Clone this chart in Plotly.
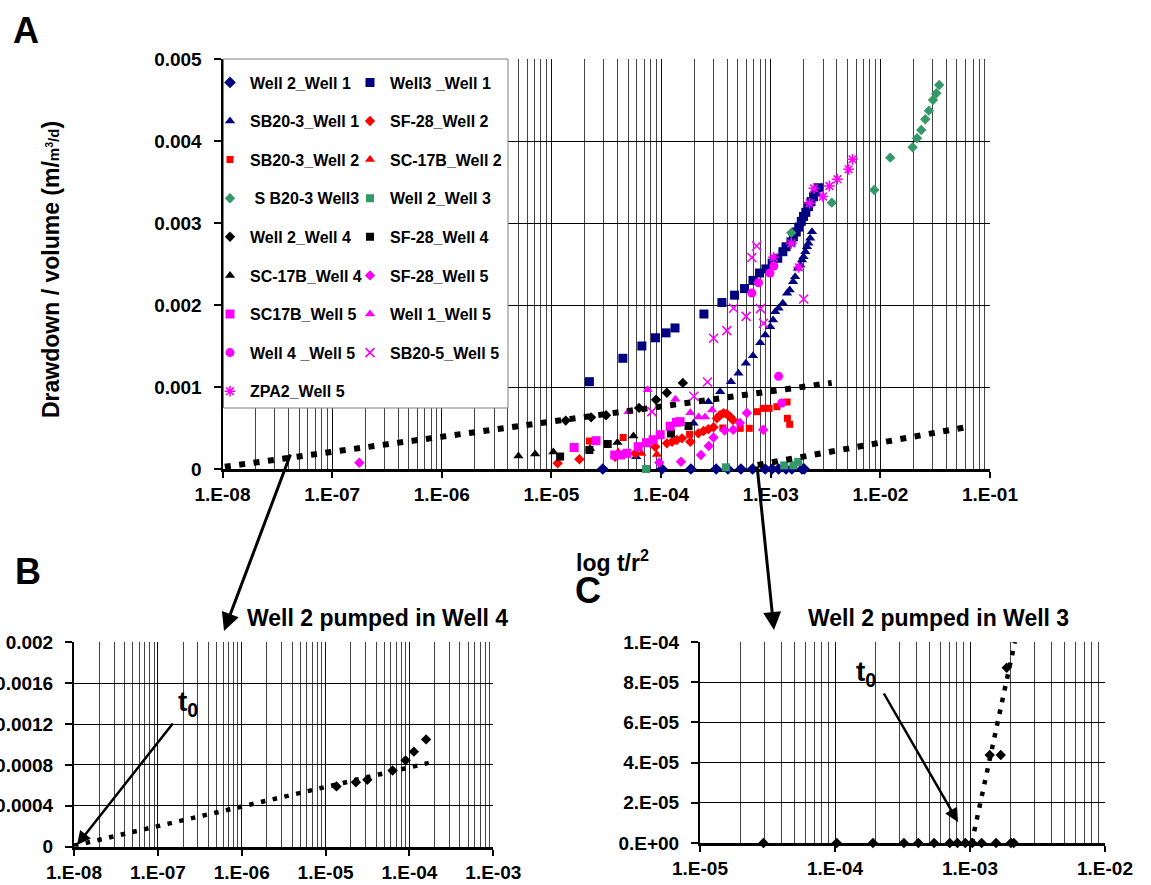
import plotly.graph_objects as go

W, H = 1151, 885
FONT = "Arial, 'Liberation Sans', Helvetica, sans-serif"

NAVY, RED, GREEN, BLACK, MAG = "#000080", "#FF0000", "#339966", "#000000", "#FF00FF"

# ---------------- data: t/r^2 (x) and drawdown / volume (y) ----------------
w2_w1_t = [2.94e-5, 1.02e-4, 1.87e-4, 3.18e-4, 4.07e-4, 5.35e-4, 6.83e-4, 8.91e-4,
           1.03e-3, 1.18e-3, 1.38e-3, 1.56e-3, 1.93e-3, 2.02e-3]
w2_w1_s = [0.0] * 14

w3_w1_t = [2.22e-5, 4.48e-5, 6.68e-5, 8.89e-5, 1.11e-4, 1.34e-4, 2.46e-4, 3.59e-4, 4.68e-4,
           5.77e-4, 6.89e-4, 7.91e-4, 9.04e-4, 1.03e-3, 1.16e-3, 1.29e-3, 1.38e-3, 1.53e-3,
           1.61e-3, 1.71e-3, 1.80e-3, 1.90e-3, 1.99e-3, 2.09e-3, 2.21e-3, 2.33e-3, 2.46e-3,
           2.58e-3, 2.73e-3]
w3_w1_s = [1.065e-3, 1.35e-3, 1.50e-3, 1.60e-3, 1.66e-3, 1.72e-3, 1.89e-3, 2.03e-3, 2.12e-3,
           2.20e-3, 2.30e-3, 2.39e-3, 2.44e-3, 2.51e-3, 2.57e-3, 2.65e-3, 2.71e-3, 2.77e-3,
           2.83e-3, 2.89e-3, 2.95e-3, 3.02e-3, 3.08e-3, 3.13e-3, 3.20e-3, 3.26e-3, 3.32e-3,
           3.38e-3, 3.43e-3]

sb203_w1_t = [5.93e-5, 1.98e-4, 2.70e-4, 3.46e-4, 4.34e-4, 5.08e-4, 5.94e-4, 6.89e-4, 8.02e-4,
              8.91e-4, 9.89e-4, 1.05e-3, 1.10e-3, 1.18e-3, 1.29e-3, 1.41e-3, 1.49e-3, 1.60e-3,
              1.67e-3, 1.77e-3, 1.86e-3, 1.93e-3, 1.99e-3, 2.07e-3, 2.14e-3, 2.21e-3, 2.29e-3,
              2.38e-3]
sb203_w1_s = [1.50e-4, 5.57e-4, 8.21e-4, 9.43e-4, 1.065e-3, 1.167e-3, 1.289e-3, 1.382e-3,
              1.540e-3, 1.634e-3, 1.735e-3, 1.817e-3, 1.918e-3, 1.960e-3, 2.021e-3, 2.143e-3,
              2.183e-3, 2.284e-3, 2.345e-3, 2.448e-3, 2.488e-3, 2.549e-3, 2.589e-3, 2.650e-3,
              2.711e-3, 2.752e-3, 2.813e-3, 2.894e-3]

sf28_w2_t = [1.14e-5, 1.80e-5, 3.81e-5, 5.81e-5, 8.83e-5, 1.13e-4, 1.26e-4, 1.39e-4, 1.55e-4,
             1.85e-4, 2.19e-4, 2.44e-4, 2.70e-4, 3.01e-4, 3.23e-4, 3.46e-4, 3.71e-4, 3.98e-4,
             4.27e-4, 4.52e-4]
sf28_w2_s = [7.0e-5, 1.18e-4, 1.50e-4, 1.91e-4, 2.72e-4, 3.13e-4, 3.33e-4, 3.54e-4, 3.74e-4,
             3.33e-4, 4.35e-4, 4.63e-4, 4.84e-4, 5.09e-4, 6.18e-4, 6.59e-4, 6.79e-4, 6.71e-4,
             6.38e-4, 5.98e-4]

sb203_w2_t = [2.22e-5, 4.51e-5, 1.82e-4, 3.66e-4, 5.27e-4, 6.37e-4, 7.54e-4, 8.55e-4, 9.68e-4,
              1.14e-3, 1.41e-3, 1.42e-3, 1.49e-3]
sb203_w2_s = [3.41e-4, 3.84e-4, 4.23e-4, 5.00e-4, 4.96e-4, 4.96e-4, 6.99e-4, 7.40e-4, 7.40e-4,
              7.60e-4, 8.17e-4, 6.18e-4, 5.45e-4]

sc17b_w2_t = [4.06e-5, 6.61e-5, 9.16e-5]
sc17b_w2_s = [2.07e-4, 1.89e-4, 1.77e-4]

sb203_w3_t = [1.54e-3, 3.61e-3, 8.79e-3, 1.23e-2, 1.97e-2, 2.16e-2, 2.36e-2, 2.57e-2, 2.77e-2,
              3.02e-2, 3.24e-2, 3.44e-2]
sb203_w3_s = [2.882e-3, 3.248e-3, 3.402e-3, 3.797e-3, 3.923e-3, 4.033e-3, 4.134e-3, 4.265e-3,
              4.370e-3, 4.500e-3, 4.582e-3, 4.683e-3]

w2_w3_t = [7.3e-5, 3.9e-4, 1.33e-3, 1.61e-3, 1.78e-3]
w2_w3_s = [0.0, 2.0e-5, 4.4e-5, 4.4e-5, 8.7e-5]

w2_w4_t = [1.35e-5, 2.3e-5, 3.15e-5, 6.3e-5, 9.0e-5, 1.13e-4, 1.58e-4]
w2_w4_s = [5.9e-4, 6.3e-4, 6.55e-4, 7.45e-4, 8.45e-4, 9.3e-4, 1.05e-3]

sf28_w4_t = [1.20e-5, 2.22e-5, 3.26e-5, 1.23e-4, 1.78e-4]
sf28_w4_s = [1.52e-4, 2.32e-4, 3.05e-4, 4.33e-4, 5.24e-4]

sc17b_w4_t = [5.0e-6, 7.1e-6, 1.04e-5, 2.25e-5, 4.0e-5, 5.6e-5]
sc17b_w4_s = [1.59e-4, 1.83e-4, 2.07e-4, 2.50e-4, 3.23e-4, 4.02e-4]

sf28_w5_t = [1.77e-7, 9.62e-5, 1.52e-4, 2.31e-4, 2.72e-4, 3.01e-4, 3.80e-4, 4.55e-4, 5.24e-4,
             6.07e-4, 8.55e-4]
sf28_w5_s = [7.7e-5, 8.0e-5, 8.9e-5, 1.71e-4, 2.80e-4, 3.84e-4, 4.70e-4, 4.79e-4, 5.61e-4,
             6.83e-4, 4.79e-4]

sc17b_w5_t = [1.61e-5, 2.55e-5, 3.78e-5, 4.28e-5, 4.88e-5, 6.18e-5, 7.35e-5, 8.47e-5, 9.82e-5,
              1.21e-4, 1.38e-4, 1.49e-4]
sc17b_w5_s = [2.62e-4, 3.45e-4, 1.71e-4, 1.71e-4, 1.91e-4, 2.72e-4, 3.21e-4, 3.57e-4, 4.18e-4,
              5.21e-4, 5.70e-4, 5.77e-4]

w1_w5_t = [5.04e-5, 7.55e-5, 1.35e-4, 1.85e-4, 2.20e-4, 2.52e-4, 2.92e-4]
w1_w5_s = [6.99e-4, 9.67e-4, 8.50e-4, 6.87e-4, 6.34e-4, 6.34e-4, 7.20e-4]

w4_w5_t = [6.73e-4, 7.74e-4, 9.84e-4, 1.07e-3, 1.18e-3, 1.26e-3]
w4_w5_s = [2.146e-3, 2.272e-3, 2.390e-3, 2.476e-3, 1.130e-3, 8.05e-4]

sb205_w5_t = [8.24e-5, 1.99e-4, 2.65e-4, 3.01e-4, 3.98e-4, 4.58e-4, 5.96e-4, 6.73e-4, 7.45e-4,
              8.07e-4, 8.59e-4, 2.00e-3]
sb205_w5_s = [6.99e-4, 8.87e-4, 1.061e-3, 1.594e-3, 1.687e-3, 1.960e-3, 1.862e-3, 2.579e-3,
              2.719e-3, 1.955e-3, 1.777e-3, 2.073e-3]

zpa2_w5_t = [1.06e-3, 1.54e-3, 1.80e-3, 2.26e-3, 2.48e-3, 2.99e-3, 3.43e-3, 4.05e-3, 5.13e-3,
             5.57e-3]
zpa2_w5_s = [2.582e-3, 2.752e-3, 2.460e-3, 3.240e-3, 3.423e-3, 3.323e-3, 3.451e-3, 3.534e-3,
             3.655e-3, 3.777e-3]

# logarithmic trend lines (end points)
trend_w2w4_t = [1.05e-8, 3.6e-3]
trend_w2w4_s = [2.8e-5, 1.05e-3]
trend_w2w3_t = [7.6e-4, 6.4e-2]
trend_w2w3_s = [5.0e-5, 5.16e-4]

# panel B: Well 2 pumped in Well 4
b_t = w2_w4_t
b_s = w2_w4_s
b_trend_t = [1.0e-8, 1.7e-4]
b_trend_s = [1.0e-5, 8.2e-4]

# panel C: Well 2 pumped in Well 3
c_t = [2.95e-5, 1.03e-4, 1.91e-4, 3.24e-4, 4.14e-4, 5.42e-4, 7.08e-4, 8.07e-4, 9.23e-4,
       1.04e-3, 1.22e-3, 1.56e-3, 2.01e-3, 2.11e-3, 1.40e-3, 1.69e-3, 1.87e-3]
c_s = [0.0] * 14 + [4.38e-5, 4.38e-5, 8.72e-5]
c_trend_t = [1.03e-3, 2.15e-3]
c_trend_s = [0.0, 1.0e-4]

# tick labels
main_xticks = [10.0 ** e for e in range(-8, 0)]
main_xtext = ["1.E-08", "1.E-07", "1.E-06", "1.E-05", "1.E-04", "1.E-03", "1.E-02", "1.E-01"]
main_yticks = [0, 0.001, 0.002, 0.003, 0.004, 0.005]
main_ytext = ["0", "0.001", "0.002", "0.003", "0.004", "0.005"]
b_xticks = [10.0 ** e for e in range(-8, -2)]
b_xtext = ["1.E-08", "1.E-07", "1.E-06", "1.E-05", "1.E-04", "1.E-03"]
b_yticks = [0, 0.0004, 0.0008, 0.0012, 0.0016, 0.002]
b_ytext = ["0", "0.0004", "0.0008", "0.0012", "0.0016", "0.002"]
c_xticks = [10.0 ** e for e in range(-5, -1)]
c_xtext = ["1.E-05", "1.E-04", "1.E-03", "1.E-02"]
c_yticks = [0, 2e-5, 4e-5, 6e-5, 8e-5, 1e-4]
c_ytext = ["0.E+00", "2.E-05", "4.E-05", "6.E-05", "8.E-05", "1.E-04"]


def px_x(p):
    return p / W


def px_y(p):
    return 1 - p / H


def minor_vals(e0, e1):
    return [m * 10.0 ** e for e in range(e0, e1) for m in range(2, 10)]


fig = go.Figure()

series = [
    # name, x, y, symbol, color, size, legend column
    ("Well 2_Well 1", w2_w1_t, w2_w1_s, "diamond", NAVY, 9, "legend"),
    ("Well3 _Well 1", w3_w1_t, w3_w1_s, "square", NAVY, 9, "legend2"),
    ("SB20-3_Well 1", sb203_w1_t, sb203_w1_s, "triangle-up", NAVY, 9, "legend"),
    ("SF-28_Well 2", sf28_w2_t, sf28_w2_s, "diamond", RED, 8, "legend2"),
    ("SB20-3_Well 2", sb203_w2_t, sb203_w2_s, "square", RED, 7, "legend"),
    ("SC-17B_Well 2", sc17b_w2_t, sc17b_w2_s, "triangle-up", RED, 9, "legend2"),
    (" S B20-3 Well3", sb203_w3_t, sb203_w3_s, "diamond", GREEN, 8, "legend"),
    ("Well 2_Well 3", w2_w3_t, w2_w3_s, "square", GREEN, 8, "legend2"),
    ("Well 2_Well 4", w2_w4_t, w2_w4_s, "diamond", BLACK, 8, "legend"),
    ("SF-28_Well 4", sf28_w4_t, sf28_w4_s, "square", BLACK, 8, "legend2"),
    ("SC-17B_Well 4", sc17b_w4_t, sc17b_w4_s, "triangle-up", BLACK, 9, "legend"),
    ("SF-28_Well 5", sf28_w5_t, sf28_w5_s, "diamond", MAG, 8, "legend2"),
    ("SC17B_Well 5", sc17b_w5_t, sc17b_w5_s, "square", MAG, 9, "legend"),
    ("Well 1_Well 5", w1_w5_t, w1_w5_s, "triangle-up", MAG, 9, "legend2"),
    ("Well 4 _Well 5", w4_w5_t, w4_w5_s, "circle", MAG, 9, "legend"),
    ("SB20-5_Well 5", sb205_w5_t, sb205_w5_s, "x-thin-open", MAG, 9, "legend2"),
    ("ZPA2_Well 5", zpa2_w5_t, zpa2_w5_s, "asterisk-open", MAG, 9, "legend"),
]

for name, xs, ys, sym, col, size, leg in series:
    marker = dict(symbol=sym, color=col, size=size)
    if sym.endswith("-open"):
        marker["line"] = dict(color=col, width=1.6)
    else:
        marker["line"] = dict(width=0)
    fig.add_trace(go.Scatter(
        x=xs, y=ys, mode="markers", name=name, marker=marker,
        legend=leg, legendgroup=name, cliponaxis=False,
        xaxis="x", yaxis="y"))

# trend lines on the main chart
for tx, ty in [(trend_w2w4_t, trend_w2w4_s), (trend_w2w3_t, trend_w2w3_s)]:
    fig.add_trace(go.Scatter(
        x=tx, y=ty, mode="lines", showlegend=False,
        line=dict(color="black", width=6, dash="6px,8.5px"),
        xaxis="x", yaxis="y"))

# panel B
fig.add_trace(go.Scatter(
    x=b_trend_t, y=b_trend_s, mode="lines", showlegend=False,
    line=dict(color="black", width=4.5, dash="4.5px,7.5px"), xaxis="x2", yaxis="y2"))
fig.add_trace(go.Scatter(
    x=b_t, y=b_s, mode="markers", showlegend=False, cliponaxis=False,
    marker=dict(symbol="diamond", color="black", size=8), xaxis="x2", yaxis="y2"))

# panel C
fig.add_trace(go.Scatter(
    x=c_trend_t, y=c_trend_s, mode="lines", showlegend=False,
    line=dict(color="black", width=4.5, dash="4.5px,7.5px"), xaxis="x3", yaxis="y3"))
fig.add_trace(go.Scatter(
    x=c_t, y=c_s, mode="markers", showlegend=False, cliponaxis=False,
    marker=dict(symbol="diamond", color="black", size=8), xaxis="x3", yaxis="y3"))

tick_font = dict(family=FONT, size=19, color="black", weight="bold")


def xaxis_cfg(domain, anchor, rng, tv, tt, e0, e1):
    return dict(
        type="log", domain=domain, anchor=anchor, range=rng, automargin=False,
        tickmode="array", tickvals=tv, ticktext=tt, tickfont=tick_font,
        ticks="outside", ticklen=6, tickwidth=2, tickcolor="black",
        showline=True, linecolor="black", linewidth=3,
        showgrid=True, gridcolor="#111111", gridwidth=1, zeroline=False,
        minor=dict(tickmode="array", tickvals=minor_vals(e0, e1), showgrid=True,
                   gridcolor="#444444", gridwidth=1, ticks=""),
        layer="below traces", fixedrange=True)


def yaxis_cfg(domain, anchor, rng, tv, tt):
    return dict(
        domain=domain, anchor=anchor, range=rng, automargin=False,
        tickmode="array", tickvals=tv, ticktext=tt, tickfont=tick_font,
        ticks="outside", ticklen=7, tickwidth=2, tickcolor="black",
        ticklabelstandoff=8,
        showline=True, linecolor="black", linewidth=2,
        showgrid=True, gridcolor="black", gridwidth=1, zeroline=False,
        layer="below traces", fixedrange=True)


fig.update_layout(
    template="none",
    width=W, height=H, autosize=False,
    margin=dict(l=0, r=0, t=0, b=0, pad=0, autoexpand=False),
    paper_bgcolor="white", plot_bgcolor="white",
    font=dict(family=FONT, color="black"),
    xaxis=xaxis_cfg([px_x(222.5), px_x(990)], "y", [-8, -1], main_xticks, main_xtext, -8, -1),
    yaxis=yaxis_cfg([px_y(469), px_y(59)], "x", [0, 0.005], main_yticks, main_ytext),
    xaxis2=xaxis_cfg([px_x(74), px_x(493.3)], "y2", [-8, -3], b_xticks, b_xtext, -8, -3),
    yaxis2=yaxis_cfg([px_y(846.7), px_y(642.3)], "x2", [0, 0.002], b_yticks, b_ytext),
    xaxis3=xaxis_cfg([px_x(700), px_x(1105)], "y3", [-5, -2], c_xticks, c_xtext, -5, -2),
    yaxis3=yaxis_cfg([px_y(843), px_y(642)], "x3", [0, 1e-4], c_yticks, c_ytext),
    showlegend=True,
    hovermode=False,
)

legend_common = dict(
    xanchor="left", yanchor="top", bgcolor="rgba(0,0,0,0)", borderwidth=0,
    font=dict(family=FONT, size=16, color="black", weight="bold"),
    traceorder="grouped", tracegroupgap=14.8, itemwidth=30, itemclick=False,
    itemdoubleclick=False)
fig.update_layout(
    legend=dict(x=px_x(210), y=px_y(65.5), **legend_common),
    legend2=dict(x=px_x(350), y=px_y(65.5), **legend_common),
)

# white legend frame over the grid
fig.add_shape(type="rect", xref="paper", yref="paper",
              x0=px_x(223.5), x1=px_x(508), y0=px_y(408), y1=px_y(59),
              fillcolor="white", line=dict(color="#7f7f7f", width=1), layer="above")

ann = []


def text(x, y, s, size, **kw):
    ann.append(dict(x=px_x(x), y=px_y(y), xref="paper", yref="paper", text=s,
                    showarrow=False, xanchor=kw.get("xanchor", "center"),
                    yanchor=kw.get("yanchor", "middle"), textangle=kw.get("angle", 0),
                    font=dict(family=FONT, size=size, color="black", weight="bold")))


def arrow(hx, hy, tx, ty, width=3, head=1.2):
    ann.append(dict(x=px_x(hx), y=px_y(hy), xref="paper", yref="paper", text="",
                    showarrow=True, ax=tx - hx, ay=ty - hy, axref="pixel", ayref="pixel",
                    arrowhead=2, arrowsize=head, arrowwidth=width, arrowcolor="black",
                    standoff=0, startstandoff=0))


text(26, 31, "A", 36)
text(28, 571, "B", 36)
text(588, 590, "C", 36)
text(612, 561, "log t/r<sup>2</sup>", 23)
text(51, 270, "Drawdown / volume (m/<span style='font-size:15px'>m<sup>3</sup>/d</span>)",
     23, angle=-90)
text(377, 618, "Well 2 pumped in Well 4", 23)
text(938, 618, "Well 2 pumped in Well 3", 23)
text(188, 703, "t<sub>0</sub>", 28)
text(866, 673, "t<sub>0</sub>", 28)

arrow(224, 631, 291, 453)
arrow(774, 630, 757, 465)
arrow(77, 845, 174, 722, width=2.5, head=1.1)
arrow(958, 822, 883, 692, width=2.5, head=1.1)

fig.update_layout(annotations=ann)

fig.write_html("out.html", config={"displayModeBar": False})
